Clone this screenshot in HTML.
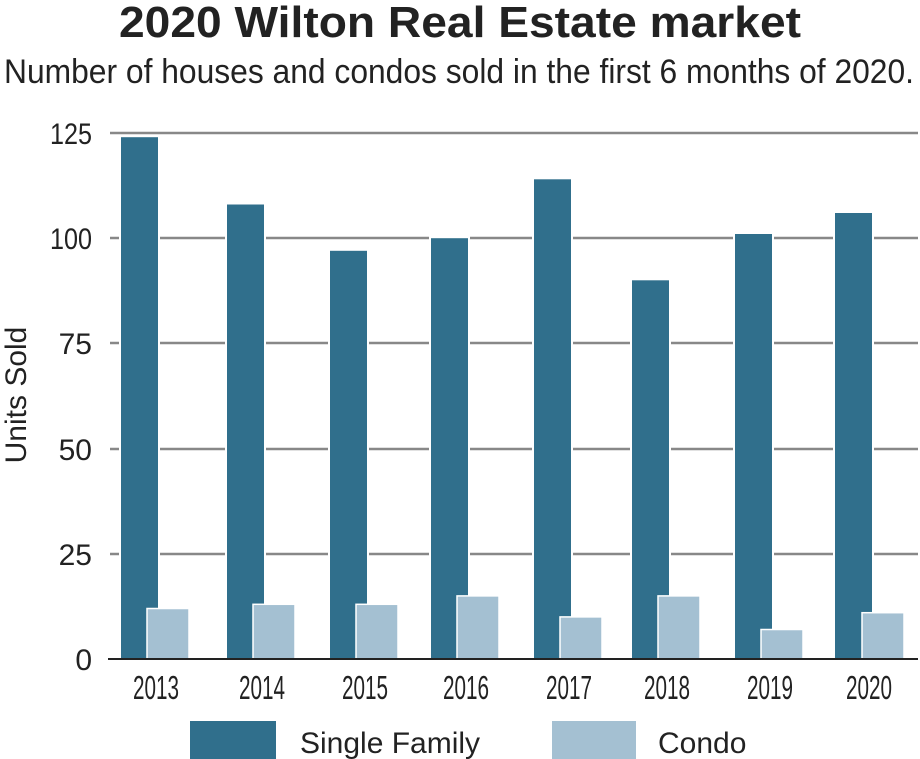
<!DOCTYPE html>
<html><head><meta charset="utf-8"><style>html,body{margin:0;padding:0;background:#fff}svg{display:block}</style></head>
<body>
<svg width="920" height="759" xmlns="http://www.w3.org/2000/svg" font-family="Liberation Sans, sans-serif">
<rect width="920" height="759" fill="#fff"/>
<text x="460" y="37" text-anchor="middle" font-size="44" font-weight="bold" fill="#222" textLength="682" lengthAdjust="spacingAndGlyphs">2020 Wilton Real Estate market</text>
<text x="459" y="83" text-anchor="middle" font-size="34" fill="#222" textLength="910" lengthAdjust="spacingAndGlyphs">Number of houses and condos sold in the first 6 months of 2020.</text>
<g stroke="#888" stroke-width="2.5">
<line x1="110" y1="133" x2="918" y2="133"/>
<line x1="110" y1="238" x2="918" y2="238"/>
<line x1="110" y1="343" x2="918" y2="343"/>
<line x1="110" y1="449" x2="918" y2="449"/>
<line x1="110" y1="554" x2="918" y2="554"/>
</g>
<g font-size="30" fill="#222" text-anchor="end">
<text x="92" y="144" textLength="42" lengthAdjust="spacingAndGlyphs">125</text>
<text x="92" y="249" textLength="42" lengthAdjust="spacingAndGlyphs">100</text>
<text x="92" y="354">75</text>
<text x="92" y="460">50</text>
<text x="92" y="565">25</text>
<text x="92" y="670">0</text>
</g>
<text transform="translate(26,395) rotate(-90)" text-anchor="middle" font-size="30" fill="#222">Units Sold</text>
<g fill="#fff">
<rect x="119" y="135" width="41" height="524"/>
<rect x="225" y="202.5" width="41" height="457"/>
<rect x="328" y="248.8" width="41" height="411"/>
<rect x="429" y="236.2" width="41" height="423"/>
<rect x="532" y="177.3" width="41" height="482"/>
<rect x="630" y="278.3" width="41" height="381"/>
<rect x="733" y="232" width="41" height="427"/>
<rect x="833" y="211" width="41" height="448"/>
</g>
<g fill="#306f8c">
<rect x="121" y="137.2" width="37" height="521.8"/>
<rect x="227" y="204.5" width="37" height="454.5"/>
<rect x="330" y="250.8" width="37" height="408.2"/>
<rect x="431" y="238.2" width="37" height="420.8"/>
<rect x="534" y="179.3" width="37" height="479.7"/>
<rect x="632" y="280.3" width="37" height="378.7"/>
<rect x="735" y="234" width="37" height="425"/>
<rect x="835" y="213" width="37" height="446"/>
</g>
<g fill="#a4c0d2" stroke="#fff" stroke-width="1.5">
<rect x="147" y="608.5" width="42" height="50.5"/>
<rect x="253" y="604.3" width="42" height="54.7"/>
<rect x="356" y="604.3" width="42" height="54.7"/>
<rect x="457" y="595.9" width="42" height="63.1"/>
<rect x="560" y="616.9" width="42" height="42.1"/>
<rect x="658" y="595.9" width="42" height="63.1"/>
<rect x="761" y="629.5" width="42" height="29.5"/>
<rect x="862" y="612.7" width="42" height="46.3"/>
</g>
<g font-size="33" fill="#222" text-anchor="middle">
<text x="156" y="699" textLength="46" lengthAdjust="spacingAndGlyphs">2013</text>
<text x="262" y="699" textLength="46" lengthAdjust="spacingAndGlyphs">2014</text>
<text x="365" y="699" textLength="46" lengthAdjust="spacingAndGlyphs">2015</text>
<text x="466" y="699" textLength="46" lengthAdjust="spacingAndGlyphs">2016</text>
<text x="569" y="699" textLength="46" lengthAdjust="spacingAndGlyphs">2017</text>
<text x="667" y="699" textLength="46" lengthAdjust="spacingAndGlyphs">2018</text>
<text x="770" y="699" textLength="46" lengthAdjust="spacingAndGlyphs">2019</text>
<text x="869" y="699" textLength="46" lengthAdjust="spacingAndGlyphs">2020</text>
</g>
<line x1="108" y1="659" x2="918" y2="659" stroke="#222" stroke-width="2"/>
<rect x="190" y="721" width="86" height="38" fill="#306f8c"/>
<text x="300" y="753" font-size="30" fill="#222">Single Family</text>
<rect x="552" y="721" width="84" height="38" fill="#a4c0d2"/>
<text x="658" y="753" font-size="30" fill="#222">Condo</text>
</svg>
</body></html>
